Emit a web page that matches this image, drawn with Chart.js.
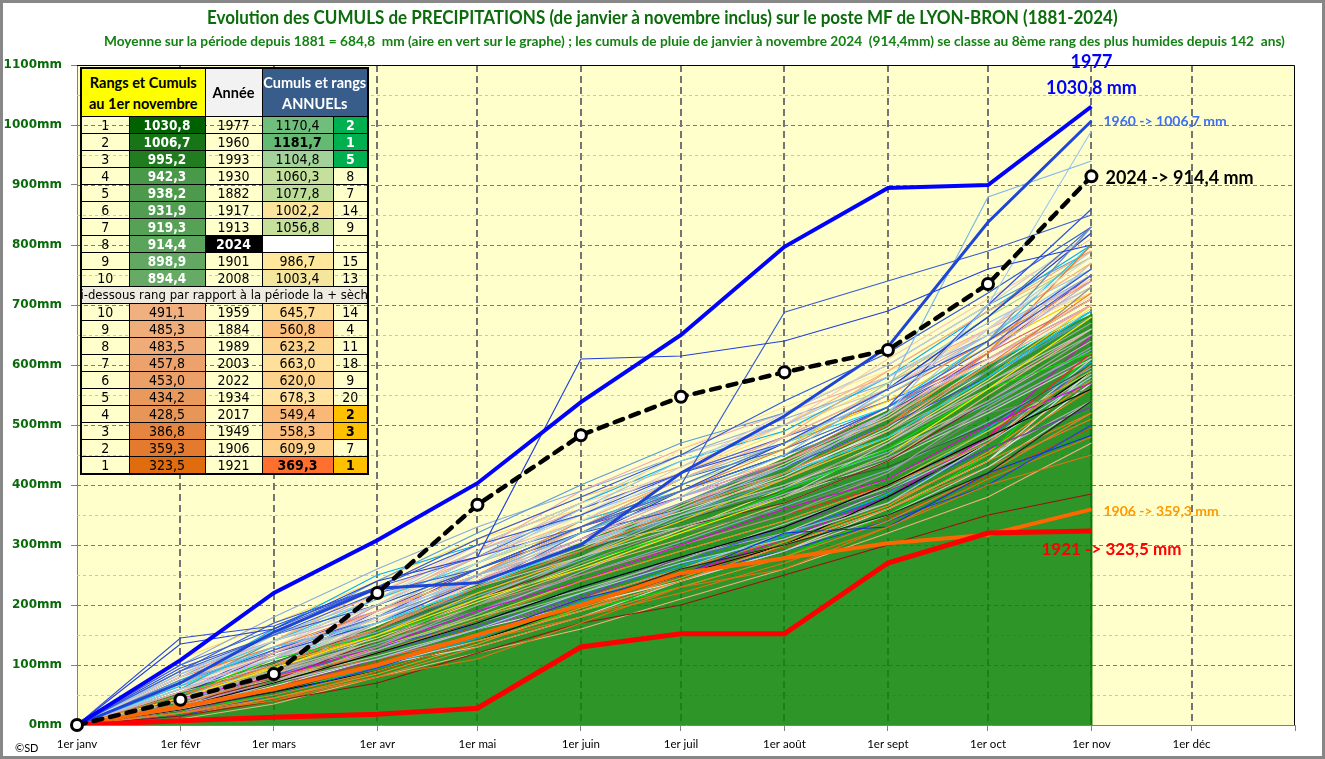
<!DOCTYPE html>
<html lang="fr">
<head>
<meta charset="utf-8">
<title>Cumuls de précipitations - Lyon-Bron</title>
<script src="https://cdn.jsdelivr.net/npm/chart.js@4.4.1/dist/chart.umd.min.js"></script>
<style>
html,body{margin:0;padding:0;background:#fff;}
#cadre{position:relative;width:1325px;height:759px;overflow:hidden;background:#fff;}
#cadre canvas{position:absolute;left:0;top:0;}
#bord{position:absolute;left:0;top:0;width:1325px;height:759px;box-sizing:border-box;border:3px solid #878787;pointer-events:none;}
.titre{position:absolute;white-space:nowrap;font-family:Lato,sans-serif;font-weight:bold;transform-origin:0 0;}
#t1{top:6px;font-size:18px;color:#0c6c0c;}
#t2{top:33px;font-size:13.5px;color:#138213;}
#copy{position:absolute;left:15px;top:741px;font:11px Lato,sans-serif;color:#000;}
#tab{position:absolute;left:80px;top:67px;border-collapse:collapse;table-layout:fixed;width:287px;border:2px solid #000;
     font-family:"DejaVu Sans Condensed","DejaVu Sans",sans-serif;font-size:14px;color:#000;}
#tab td,#tab th{border:1px solid #000;padding:0;text-align:center;height:16px;line-height:16px;overflow:hidden;white-space:nowrap;}
#tab th{font-family:Lato,sans-serif;font-size:14.5px;line-height:21px;height:47px;font-weight:bold;}
#tab td.val{font-weight:bold;color:#fff;font-size:13.5px;}
#tab td.sep{background:#EEECE1;font-size:13px;}
#tab td.sep div{display:flex;justify-content:center;overflow:hidden;white-space:nowrap;}
</style>
</head>
<body>
<div id="cadre">
  <canvas id="graphe" width="1325" height="759"></canvas>
  <div id="t1" class="titre">Evolution des CUMULS de PRECIPITATIONS (de janvier à novembre inclus) sur le poste MF de LYON-BRON (1881-2024)</div>
  <div id="t2" class="titre">Moyenne sur la période depuis 1881 = 684,8&nbsp; mm (aire en vert sur le graphe) ; les cumuls de pluie de janvier à novembre 2024&nbsp; (914,4mm) se classe au 8ème rang des plus humides depuis 142&nbsp; ans)</div>
  <table id="tab"></table>
  <div id="copy">©SD</div>
  <div id="bord"></div>
</div>
<script>
// jours depuis le 1er janvier
const JOURS = [0, 31, 59, 90, 120, 151, 181, 212, 243, 273, 304];
const DEBUTS_MOIS = [0, 31, 59, 90, 120, 151, 181, 212, 243, 273, 304, 334, 365];
const MOIS = ['1er janv','1er févr','1er mars','1er avr','1er mai','1er juin','1er juil','1er août','1er sept','1er oct','1er nov','1er déc'];

// cumuls (mm) au 1er de chaque mois
const MOYENNE    = [0, 55, 105, 165, 235, 305, 370, 445, 525, 603, 684.8];
const CUMUL_2024 = [0, 42, 85, 220, 367, 483, 547, 588, 625, 735, 914.4];
const CUMUL_1977 = [0, 108, 220, 308, 403, 538, 650, 797, 895, 900, 1030.8];
const CUMUL_1960 = [0, 70, 155, 228, 237, 300, 420, 515, 630, 838, 1006.7];
const CUMUL_1921 = [0, 7, 13, 18, 28, 130, 152, 152, 270, 320, 323.5];
const CUMUL_1906 = [0, 30, 60, 100, 150, 200, 253, 278, 303, 317, 359.3];

// les autres années (lecture approximative du faisceau)
const AUTRES_ANNEES = [
  [0,145,165,230,300,350,420,470,560,640,760],
  [0,135,160,240,280,610,615,640,690,760,800],
  [0,90,150,220,260,330,400,688,740,790,850],
  [0,70,130,170,250,320,380,450,560,880,940],
  [0,60,110,180,250,300,360,430,520,700,990],
  [0,50,100,160,230,290,360,420,500,600,720],
  [0,40,90,130,200,270,330,380,450,540,650],
  [0,30,70,120,170,230,280,330,400,480,560],
  [0,25,55,100,150,200,260,300,350,420,540],
  [0,80,140,200,270,340,420,470,560,660,780],
  [0,55,120,190,240,310,380,440,520,610,700],
  [0,45,95,150,210,260,320,380,450,560,680],
  [0,65,130,170,230,300,360,420,480,580,690],
  [0,35,80,120,175,240,290,340,400,470,600],
  [0,20,50,90,140,190,240,300,360,440,520],
  [0,20,40,80,110,170,230,260,330,400,450],
  [0,15,40,70,120,170,200,250,300,350,385],
  [0,30,60,100,150,210,250,320,330,420,483],
  [0,100,160,230,280,330,390,450,530,630,750],
  [0,75,120,180,240,310,370,440,520,640,830],
  [0,50,110,150,200,270,320,390,460,560,620],
  [0,45,80,130,190,240,300,360,410,500,570],
  [0,60,100,170,230,280,330,380,470,570,660],
  [0,85,150,210,290,350,410,470,550,650,760],
  [0,40,110,180,240,310,360,410,490,600,700],
  [0,55,90,140,210,280,350,400,460,540,640],
  [0,70,120,190,250,330,390,440,510,610,710],
  [0,95,150,200,260,320,360,430,500,580,690],
  [0,30,90,150,200,250,300,350,420,530,630],
  [0,60,140,200,260,320,390,450,510,590,680],
  [0,50,120,170,240,310,390,470,560,680,820],
  [0,40,100,150,220,280,340,410,480,580,700],
  [0,65,110,160,230,300,370,420,480,560,660],
  [0,25,70,110,160,220,270,310,370,470,580],
  [0,45,95,170,220,280,340,400,470,590,730],
  [0,80,130,190,250,300,360,420,500,620,800],
  [0,35,75,140,210,270,330,370,440,540,640],
  [0,55,105,160,220,290,340,390,430,500,600],
  [0,70,125,180,260,330,390,450,530,700,860],
  [0,90,140,190,250,320,380,430,510,620,740],
  [0,20,60,110,160,210,280,330,390,460,530],
  [0,50,100,150,200,250,300,350,400,480,620],
  [0,75,140,210,270,340,390,450,530,640,800],
  [0,60,110,170,230,300,330,380,440,520,610],
  [0,40,90,150,190,260,320,360,420,520,560],
  [0,85,140,210,280,340,410,480,560,660,770],
  [0,30,70,130,180,240,290,340,400,490,590],
  [0,65,120,180,230,310,360,420,490,590,700],
  [0,50,100,160,220,290,350,410,480,580,680],
  [0,35,85,140,200,260,310,370,440,550,660],
  [0,70,115,170,240,290,350,400,470,560,650],
  [0,45,105,155,215,275,345,395,455,535,625],
  [0,60,95,145,205,265,325,395,475,575,695],
  [0,30,75,125,185,255,325,385,445,525,615],
  [0,55,115,185,245,305,355,415,495,605,715],
  [0,40,85,135,190,250,305,365,425,505,595],
  [0,65,125,175,235,295,365,435,515,625,745],
  [0,50,90,140,180,240,300,350,410,490,575],
  [0,40,80,150,230,320,400,470,560,680,830],
  [0,60,130,200,280,350,430,520,600,700,820],
  [0,30,100,170,240,330,410,480,590,690,790],
  [0,75,110,190,270,360,440,500,580,670,760],
  [0,50,90,160,250,340,390,460,550,640,740],
  [0,20,70,150,220,290,370,430,500,620,770],
  [0,90,170,230,310,380,450,540,620,720,830],
  [0,65,120,220,300,370,420,500,610,710,810],
  [0,35,95,180,270,330,400,460,570,680,780],
  [0,55,140,210,260,350,460,530,590,650,720],
  [0,80,150,240,320,400,470,520,600,700,790],
  [0,45,85,170,250,310,380,480,560,640,730],
  [0,25,60,130,210,290,360,440,530,620,710],
  [0,70,160,250,300,370,440,490,580,690,800],
  [0,100,180,260,330,390,450,510,570,650,750],
  [0,60,110,200,290,390,460,520,580,660,740],
  [0,40,120,190,270,340,410,470,540,630,720],
  [0,85,130,180,240,320,400,470,550,640,730],
  [0,55,100,190,260,330,380,440,520,620,750],
  [0,30,90,160,230,300,350,420,520,660,790],
  [0,70,140,230,310,380,430,500,590,690,780],
  [0,50,110,200,280,360,420,480,540,610,700],
  [0,65,150,210,280,370,450,500,560,640,750],
  [0,45,100,180,250,320,400,470,530,600,690],
  [0,80,140,220,290,360,420,480,560,650,720],
  [0,35,80,140,200,280,360,420,490,570,670],
  [0,110,170,240,310,360,420,490,570,660,770],
  [0,55,125,190,250,330,410,460,530,610,710],
  [0,25,85,160,240,320,390,450,510,590,680],
  [0,75,130,210,300,350,410,480,540,630,730],
  [0,20,45,80,130,180,230,280,340,420,520],
  [0,35,60,100,140,190,240,290,350,430,540],
  [0,15,50,95,150,200,250,290,340,400,500],
  [0,40,70,110,150,210,260,310,370,450,560],
  [0,25,65,110,160,200,240,300,360,440,570],
  [0,30,55,90,140,200,250,300,380,470,590],
  [0,45,75,115,160,210,260,320,390,470,610],
  [0,20,40,90,140,180,220,270,330,410,480],
  [0,50,85,120,165,215,270,330,400,480,600],
  [0,25,50,100,150,190,230,280,350,450,620],
  [0,10,35,80,120,160,210,260,320,380,470],
  [0,40,80,120,170,220,280,320,370,450,540],
  [0,30,70,110,150,200,250,310,380,480,650],
  [0,55,80,110,150,190,250,300,360,430,510],
  [0,20,60,100,130,180,240,290,360,440,590],
  [0,35,70,130,170,230,280,320,380,460,530],
  [0,15,45,85,135,195,245,305,365,455,575],
  [0,45,90,125,180,225,275,335,395,475,585],
  [0,25,55,95,145,205,265,315,385,495,605],
  [0,30,65,105,165,215,255,295,345,415,495]
];
const COULEURS_AUTRES = ['#2F4FD8','#1F3FE0','#3A5FD0','#7FB8E8','#9CC8F0','#ED7D31','#A5A5A5','#000000','#222222','#D9D9D9',
  '#F4A6B0','#FFE800','#00D8F0','#ED7D31','#F08020','#E87010','#A01010','#1030E0','#4060E0','#7090C0',
  '#00E000','#E000E0','#C8C8C8','#90C8F0','#F4A080','#BFBFBF','#F8B878','#3050D0','#A0A0A0','#40A0A0',
  '#2040D0','#FFC000','#F0A0C0','#A8D0F0','#909090','#F07830','#802020','#306030','#3050E0','#B8A8E0',
  '#8040A0','#FF2020','#20C8E8','#D0D0D0','#808080','#F8B090','#C0D040','#E8E8E8','#5B9BD5','#F4B183',
  '#B0B0B0','#7CAFDD','#FFD966','#C9A0DC','#E0E0E0','#8FAADC','#F8CBAD','#70AD47',
  '#4472C4','#D0D0D0','#F4B183','#9DC3E6','#ED7D31','#BFBFBF','#2E5BD8','#F8CBAD','#A9D18E','#FFE699',
  '#5B9BD5','#C0C0C0','#E06060','#00B0F0','#8FAADC','#F4A6B0','#FFC000','#D9D9D9','#7030A0','#B4C7E7',
  '#F8B878','#4060E0','#C9C9C9','#00D8F0','#E8A0A0','#A5A5A5','#FFD966','#3A5FD0','#F4A080','#DADADA',
  '#ED7D31','#D0D0D0','#1F3FE0','#F08020','#E8E8E8','#000000','#C8C8C8','#E87010','#4060E0','#00E000',
  '#F4B183','#B0B0B0','#E000E0','#F07830','#D9D9D9','#2F4FD8','#FF8C1A','#BFBFBF','#00B0F0','#C05000'];

// tableau des rangs
const RANGS_HUMIDES   = [1,2,3,4,5,6,7,8,9,10];
const CUMULS_HUMIDES  = [1030.8,1006.7,995.2,942.3,938.2,931.9,919.3,914.4,898.9,894.4];
const ANNEES_HUMIDES  = [1977,1960,1993,1930,1882,1917,1913,2024,1901,2008];
const ANNUELS_HUMIDES = [1170.4,1181.7,1104.8,1060.3,1077.8,1002.2,1056.8,null,986.7,1003.4];
const RANGS_AN_HUMIDES = [2,1,5,8,7,14,9,null,15,13];
const RANGS_SECS   = [10,9,8,7,6,5,4,3,2,1];
const CUMULS_SECS  = [491.1,485.3,483.5,457.8,453.0,434.2,428.5,386.8,359.3,323.5];
const ANNEES_SECS  = [1959,1884,1989,2003,2022,1934,2017,1949,1906,1921];
const ANNUELS_SECS = [645.7,560.8,623.2,663.0,620.0,678.3,549.4,558.3,609.9,369.3];
const RANGS_AN_SECS = [14,4,11,18,9,20,2,3,7,1];

// couleurs des cellules
const FOND_CUMUL_H = ['#006100','#177517','#217B1F','#4A984A','#4D9A4D','#519D51','#56A156','#5BA45B','#62A862','#66AA66'];
const FOND_AN_H = ['#70BE7B','#64BA72','#A2D29A','#C5E09C','#BCDC98','#FBE49B','#C6E09C','#FFFFFF','#FFE79B','#F4E69C'];
const FOND_CUMUL_S = ['#F0B07F','#EFAD7A','#EFAC79','#ECA26A','#EBA067','#E9995C','#E89657','#E5853F','#E37A2E','#E06C0E'];
const FOND_AN_S = ['#FEDC94','#FBBE7B','#FDD48D','#FFE09A','#FDD28B','#FFE39E','#FAB877','#FBBD7B','#FDCF88','#FF6F2D'];

function fr(v){ return v.toFixed(1).replace('.', ','); }

function construireTableau(){
  const t = document.getElementById('tab');
  let h = '<colgroup><col style="width:48px"><col style="width:76px"><col style="width:57px"><col style="width:71px"><col style="width:35px"></colgroup>';
  h += '<tr><th colspan="2" style="background:#FFFF00">Rangs et Cumuls<br>au 1er novembre</th>' +
       '<th style="background:#F2F2F2">Année</th>' +
       '<th colspan="2" style="background:#385D8A;color:#fff">Cumuls et rangs<br>ANNUELs</th></tr>';
  for (let i = 0; i < 10; i++){
    const an = ANNEES_HUMIDES[i] === 2024;
    const rg = RANGS_AN_HUMIDES[i];
    const vert = rg !== null && rg <= 5 && i < 3;
    h += '<tr><td>' + RANGS_HUMIDES[i] + '</td>' +
      '<td class="val" style="background:' + FOND_CUMUL_H[i] + '">' + fr(CUMULS_HUMIDES[i]) + '</td>' +
      '<td style="' + (an ? 'background:#000;color:#fff;font-weight:bold' : '') + '">' + ANNEES_HUMIDES[i] + '</td>' +
      '<td style="background:' + FOND_AN_H[i] + (ANNUELS_HUMIDES[i] === 1181.7 ? ';font-weight:bold' : '') + '">' + (ANNUELS_HUMIDES[i] === null ? '' : fr(ANNUELS_HUMIDES[i])) + '</td>' +
      '<td style="' + (vert ? 'background:#00B050;color:#fff;font-weight:bold' : '') + '">' + (rg === null ? '' : rg) + '</td></tr>';
  }
  h += '<tr><td colspan="5" class="sep"><div>ci-dessous rang par rapport à la période la + sèche</div></td></tr>';
  for (let i = 0; i < 10; i++){
    const rg = RANGS_AN_SECS[i];
    const or = rg <= 3;
    h += '<tr><td>' + RANGS_SECS[i] + '</td>' +
      '<td style="background:' + FOND_CUMUL_S[i] + '">' + fr(CUMULS_SECS[i]) + '</td>' +
      '<td>' + ANNEES_SECS[i] + '</td>' +
      '<td style="background:' + FOND_AN_S[i] + (i === 9 ? ';font-weight:bold' : '') + '">' + fr(ANNUELS_SECS[i]) + '</td>' +
      '<td style="' + (or ? 'background:#FFC000;font-weight:bold' : '') + '">' + rg + '</td></tr>';
  }
  t.innerHTML = h;
}

function ajuster(id, gauche, droite){
  const el = document.getElementById(id);
  const k = (droite - gauche) / el.offsetWidth;
  el.style.left = gauche + 'px';
  el.style.transform = 'scaleX(' + k + ')';
}

function points(vals){ return vals.map((v, i) => ({x: JOURS[i], y: v})); }

// fond jaune + quadrillage pointillé
const quadrillage = {
  id: 'quadrillage',
  beforeDraw(chart){
    const {ctx, chartArea: a} = chart;
    ctx.save();
    ctx.fillStyle = '#FFFFCC';
    ctx.fillRect(a.left, a.top, a.right - a.left, a.bottom - a.top);
    ctx.restore();
  },
  beforeDatasetsDraw(chart){
    const {ctx, chartArea: a, scales: {x, y}} = chart;
    ctx.save();
    for (let v = 50; v < 1100; v += 50){
      const py = Math.round(y.getPixelForValue(v)) + 0.5;
      const maj = v % 100 === 0;
      ctx.strokeStyle = maj ? '#7a7a7a' : '#c4c4c4';
      ctx.setLineDash(maj ? [4, 3] : [3, 3]);
      ctx.lineWidth = 1;
      ctx.beginPath(); ctx.moveTo(a.left, py); ctx.lineTo(a.right, py); ctx.stroke();
    }
    DEBUTS_MOIS.slice(1, 12).forEach(d => {
      const px = Math.round(x.getPixelForValue(d));
      ctx.strokeStyle = '#747474';
      ctx.lineWidth = 2;
      ctx.setLineDash([7, 4]);
      ctx.beginPath(); ctx.moveTo(px, a.top); ctx.lineTo(px, a.bottom); ctx.stroke();
    });
    ctx.restore();
  },
  afterDatasetsDraw(chart){
    const {ctx, chartArea: a} = chart;
    ctx.save();
    ctx.strokeStyle = '#000';
    ctx.lineWidth = 1;
    ctx.beginPath();
    ctx.moveTo(a.left, a.top + 0.5); ctx.lineTo(a.right - 0.5, a.top + 0.5); ctx.lineTo(a.right - 0.5, a.bottom);
    ctx.stroke();
    ctx.restore();
  }
};

// étiquettes des années remarquables
const etiquettes = {
  id: 'etiquettes',
  afterDraw(chart){
    const {ctx, scales: {x, y}} = chart;
    const xn = x.getPixelForValue(304);
    const fin = a => a[a.length - 1];
    function txt(s, px, py, font, coul, al){
      ctx.font = font; ctx.fillStyle = coul; ctx.textAlign = al; ctx.textBaseline = 'middle';
      ctx.fillText(s, px, py);
    }
    ctx.save();
    txt('1977', xn, 62, 'bold 18px Lato', '#0000FF', 'center');
    txt(fr(fin(CUMUL_1977)) + ' mm', xn, 88, 'bold 18px Lato', '#0000FF', 'center');
    txt('1960 -> ' + fr(fin(CUMUL_1960)) + ' mm', xn + 12, y.getPixelForValue(fin(CUMUL_1960)) + 1, 'bold 14px Lato', '#3F6FEF', 'left');
    txt('2024 -> ' + fr(fin(CUMUL_2024)) + ' mm', xn + 14, y.getPixelForValue(fin(CUMUL_2024)) + 2, 'bold 18px Lato', '#000', 'left');
    txt('1906 -> ' + fr(fin(CUMUL_1906)) + ' mm', xn + 12, y.getPixelForValue(fin(CUMUL_1906)) + 2, 'bold 14px Lato', '#FF9900', 'left');
    txt('1921 -> ' + fr(fin(CUMUL_1921)) + ' mm', xn + 20, y.getPixelForValue(fin(CUMUL_1921)) + 19, 'bold 17px Lato', '#FF0000', 'center');
    ctx.restore();
  }
};

function construireGraphe(){
  const jeux = [];
  jeux.push({data: points(CUMUL_2024), borderColor: '#000', borderWidth: 4.5, borderDash: [9, 8], borderCapStyle: 'round',
    pointRadius: 5.5, pointBackgroundColor: '#fff', pointBorderColor: '#000', pointBorderWidth: 3, order: 0, clip: false});
  jeux.push({data: points(CUMUL_1977), borderColor: '#0000FF', borderWidth: 4, pointRadius: 0, order: 1});
  jeux.push({data: points(CUMUL_1960), borderColor: '#1F45D6', borderWidth: 3, pointRadius: 0, order: 2});
  jeux.push({data: points(CUMUL_1921), borderColor: '#FF0000', borderWidth: 5, pointRadius: 0, order: 3});
  jeux.push({data: points(CUMUL_1906), borderColor: '#FF6600', borderWidth: 4, pointRadius: 0, order: 4});
  AUTRES_ANNEES.forEach((a, i) => {
    jeux.push({data: points(a), borderColor: COULEURS_AUTRES[i % COULEURS_AUTRES.length], borderWidth: 1.2, pointRadius: 0, order: 10});
  });
  // bord droit de l'aire moyenne
  jeux.push({data: [{x: 304, y: 0}, {x: 304, y: MOYENNE[MOYENNE.length - 1]}], borderColor: '#0A7A0A', borderWidth: 2, pointRadius: 0, order: 98});
  jeux.push({data: points(MOYENNE), borderWidth: 0, borderColor: 'rgba(0,0,0,0)', backgroundColor: 'rgba(9,131,11,0.85)',
    fill: 'origin', pointRadius: 0, order: 99});

  new Chart(document.getElementById('graphe'), {
    type: 'line',
    data: {datasets: jeux},
    options: {
      responsive: false,
      animation: false,
      devicePixelRatio: 1,
      elements: {line: {tension: 0}},
      layout: {padding: {left: 0, right: 30, top: 65, bottom: 0}},
      plugins: {legend: {display: false}, tooltip: {enabled: false}},
      scales: {
        x: {
          type: 'linear', min: 0, max: 365,
          afterBuildTicks: s => { s.ticks = DEBUTS_MOIS.map(v => ({value: v})); },
          afterFit: s => { s.height = 34; },
          ticks: {
            autoSkip: false, maxRotation: 0, padding: 6, color: '#000',
            font: {family: 'Lato', size: 11.5},
            callback: v => { const i = DEBUTS_MOIS.indexOf(v); return i >= 0 && i < 12 ? MOIS[i] : ''; }
          },
          grid: {drawOnChartArea: false, tickLength: 6, tickColor: '#808080'},
          border: {color: '#808080', width: 1}
        },
        y: {
          min: 0, max: 1100,
          afterFit: s => { s.width = 77; },
          ticks: {
            stepSize: 100, padding: 9, color: '#0A6A0A',
            font: {family: 'DejaVu Sans', size: 12, weight: 'bold'},
            callback: v => v + 'mm'
          },
          grid: {drawOnChartArea: false, tickLength: 6, tickColor: '#808080'},
          border: {color: '#808080', width: 1}
        }
      }
    },
    plugins: [quadrillage, etiquettes]
  });
}

construireTableau();
const polices = document.fonts ? Promise.all([
  document.fonts.load('bold 18px Lato'), document.fonts.load('12px Lato'),
  document.fonts.load('bold 12px "DejaVu Sans"'), document.fonts.load('14px "DejaVu Sans Condensed"')
]).catch(() => null) : Promise.resolve();
polices.then(() => {
  ajuster('t1', 207, 1118);
  ajuster('t2', 104, 1285);
  construireGraphe();
});
</script>
</body>
</html>
